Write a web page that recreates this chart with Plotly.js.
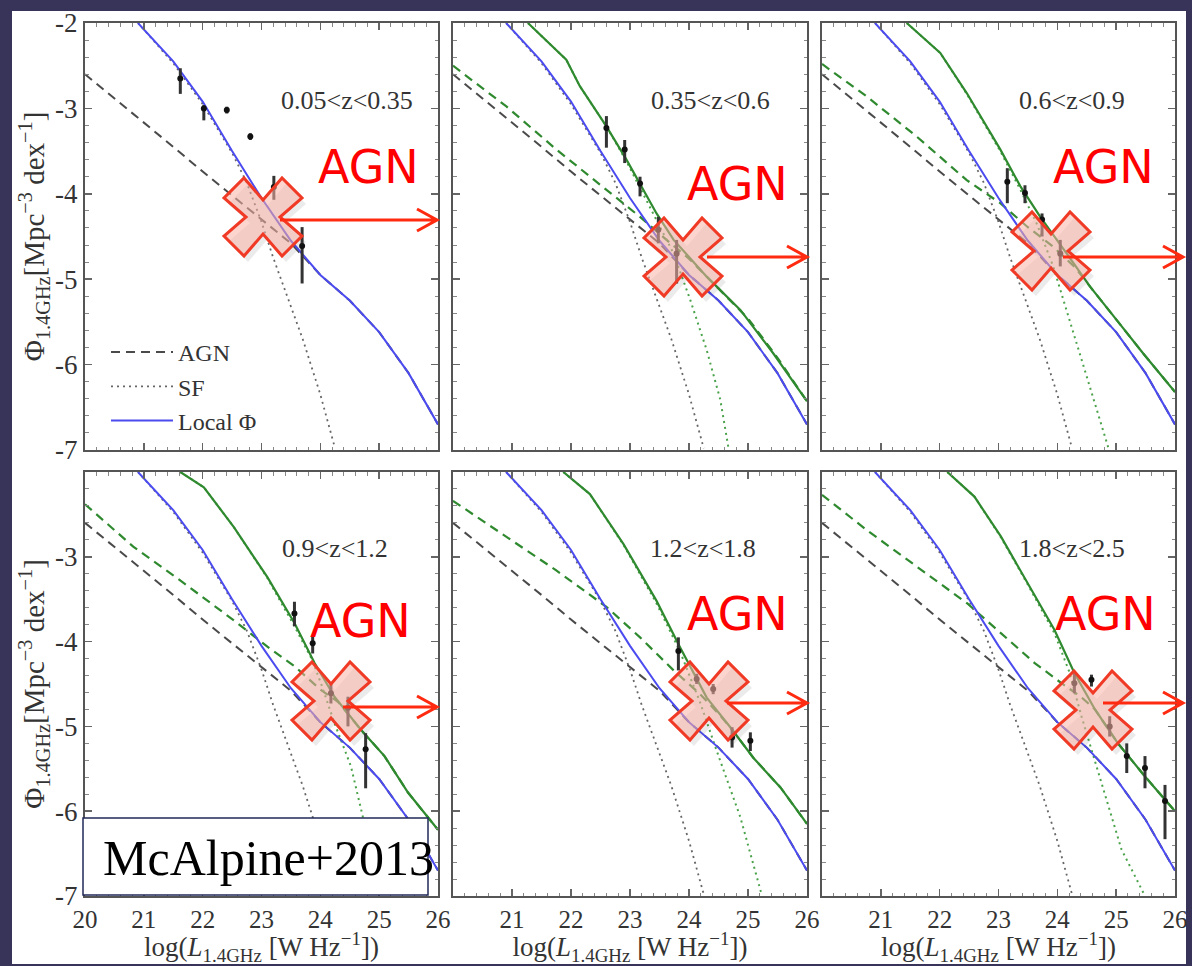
<!DOCTYPE html>
<html><head><meta charset="utf-8">
<script src="https://cdn.plot.ly/plotly-3.0.1.min.js"></script>
<style>html,body{margin:0;padding:0;background:#383459;} #chart{width:1192px;height:966px;}</style>
</head><body><div id="chart"></div><script>
// ---------- DATA ----------
const panelLabels = ['0.05&lt;z&lt;0.35', '0.35&lt;z&lt;0.6', '0.6&lt;z&lt;0.9', '0.9&lt;z&lt;1.2', '1.2&lt;z&lt;1.8', '1.8&lt;z&lt;2.5'];
const xTickVals = [20, 21, 22, 23, 24, 25, 26];
const xTickVals2 = [21, 22, 23, 24, 25, 26];
const yTickValsTop = [-7, -6, -5, -4, -3, -2];
const yTickValsBottom = [-7, -6, -5, -4, -3];

// Local luminosity function (same in every panel)
const localTotLum = [20.9, 21.5, 22.0, 22.5, 23.0, 23.5, 24.0, 24.5, 25.0, 25.5, 26.0];
const localTotPhi = [-2.0, -2.45, -2.92, -3.5, -4.05, -4.55, -4.95, -5.25, -5.62, -6.1, -6.7];
const localAgnLum = [20.0, 20.5, 21.0, 21.5, 22.0, 22.5, 23.0, 23.5, 24.0, 24.5, 25.0, 25.5, 26.0];
const localAgnPhi = [-2.6, -2.88, -3.16, -3.45, -3.74, -4.02, -4.3, -4.58, -4.95, -5.25, -5.62, -6.1, -6.7];
const localSfLum = [20.9, 21.5, 22.0, 22.5, 22.75, 23.0, 23.2, 23.45, 23.7, 24.0, 24.25];
const localSfPhi = [-2.0, -2.47, -2.95, -3.52, -3.87, -4.33, -4.75, -5.22, -5.7, -6.35, -6.98];

// Evolved fits (green) per redshift bin
const evoTotLum2 = [21.27, 21.92, 22.15, 22.6, 22.94, 23.45, 23.74, 24.3, 24.87, 25.43, 26.0];
const evoTotPhi2 = [-2.0, -2.43, -2.74, -3.21, -3.6, -4.23, -4.54, -4.97, -5.36, -5.87, -6.43];
const evoAgnLum2 = [20.0, 20.91, 21.75, 22.6, 23.17, 23.62, 24.0, 24.5, 25.0, 25.5, 26.0];
const evoAgnPhi2 = [-2.5, -2.98, -3.48, -3.95, -4.27, -4.54, -4.76, -5.11, -5.46, -5.92, -6.43];
const evoSfLum2 = [21.27, 21.92, 22.15, 22.6, 22.94, 23.45, 23.74, 24.02, 24.3, 24.53, 24.67];
const evoSfPhi2 = [-2.0, -2.43, -2.74, -3.21, -3.62, -4.3, -4.7, -5.24, -5.83, -6.41, -6.98];

const evoTotLum3 = [21.44, 22.01, 22.46, 23.03, 23.37, 23.71, 24.16, 24.56, 25.01, 25.46, 26.0];
const evoTotPhi3 = [-2.0, -2.35, -2.82, -3.48, -3.91, -4.27, -4.7, -5.09, -5.48, -5.87, -6.32];
const evoAgnLum3 = [20.0, 20.76, 21.61, 22.46, 23.03, 23.48, 23.93, 24.3, 24.56, 25.01, 25.46, 26.0];
const evoAgnPhi3 = [-2.48, -2.86, -3.33, -3.84, -4.11, -4.38, -4.62, -4.86, -5.09, -5.48, -5.87, -6.32];
const evoSfLum3 = [21.44, 22.01, 22.46, 23.03, 23.37, 23.65, 23.93, 24.27, 24.61, 24.87];
const evoSfPhi3 = [-2.0, -2.35, -2.83, -3.5, -3.95, -4.35, -4.85, -5.63, -6.41, -6.98];

const evoTotLum4 = [21.62, 22.02, 22.53, 23.1, 23.56, 23.9, 24.24, 24.69, 25.09, 25.49, 26.0];
const evoTotPhi4 = [-2.0, -2.18, -2.65, -3.24, -3.78, -4.25, -4.65, -5.04, -5.35, -5.78, -6.22];
const evoAgnLum4 = [20.0, 20.82, 21.68, 22.53, 23.1, 23.56, 24.01, 24.3, 24.69, 25.09, 25.49, 26.0];
const evoAgnPhi4 = [-2.38, -2.88, -3.31, -3.75, -4.06, -4.29, -4.57, -4.71, -5.04, -5.35, -5.78, -6.22];
const evoSfLum4 = [21.62, 22.02, 22.53, 23.1, 23.56, 23.85, 24.01, 24.24, 24.52, 24.72, 25.04];
const evoSfPhi4 = [-2.0, -2.18, -2.65, -3.25, -3.82, -4.2, -4.49, -4.96, -5.47, -6.06, -7.0];

const evoTotLum5 = [21.87, 22.32, 22.89, 23.45, 23.85, 24.3, 24.7, 25.09, 25.55, 26.0];
const evoTotPhi5 = [-2.0, -2.26, -2.85, -3.52, -4.07, -4.66, -5.01, -5.37, -5.72, -6.15];
const evoAgnLum5 = [20.0, 20.91, 21.75, 22.6, 23.17, 23.74, 24.19, 24.5, 24.7, 25.09, 25.55, 26.0];
const evoAgnPhi5 = [-2.34, -2.77, -3.16, -3.59, -3.95, -4.34, -4.62, -4.85, -5.01, -5.37, -5.72, -6.15];
const evoSfLum5 = [21.87, 22.32, 22.89, 23.45, 23.85, 24.19, 24.47, 24.87, 25.23];
const evoSfPhi5 = [-2.0, -2.26, -2.86, -3.55, -4.12, -4.72, -5.29, -6.07, -6.98];

const evoTotLum6 = [22.13, 22.59, 23.04, 23.5, 23.95, 24.29, 24.64, 25.03, 25.49, 26.0];
const evoTotPhi6 = [-2.0, -2.29, -2.76, -3.31, -3.86, -4.37, -4.8, -5.2, -5.59, -6.0];
const evoAgnLum6 = [20.0, 20.77, 21.62, 22.47, 23.04, 23.61, 24.07, 24.4, 24.64, 25.03, 25.49, 26.0];
const evoAgnPhi6 = [-2.27, -2.69, -3.12, -3.55, -3.9, -4.25, -4.49, -4.65, -4.8, -5.2, -5.59, -6.0];
const evoSfLum6 = [22.13, 22.59, 23.04, 23.5, 23.95, 24.2, 24.41, 24.75, 25.09, 25.49];
const evoSfPhi6 = [-2.0, -2.29, -2.77, -3.33, -3.9, -4.35, -4.88, -5.67, -6.45, -7.0];

// Measured luminosity function points
const obsLum1 = [21.62, 22.02, 22.41, 22.81, 23.21, 23.69];
const obsPhi1 = [-2.65, -3.0, -3.02, -3.33, -3.92, -4.61];
const obsUp1 = [0.12, 0.04, 0.04, 0.04, 0.13, 0.22];
const obsDn1 = [0.18, 0.14, 0.04, 0.04, 0.15, 0.44];
const obsLum2 = [22.6, 22.91, 23.17, 23.48, 23.79];
const obsPhi2 = [-3.23, -3.48, -3.88, -4.42, -4.7];
const obsUp2 = [0.14, 0.11, 0.08, 0.15, 0.16];
const obsDn2 = [0.23, 0.16, 0.15, 0.16, 0.35];
const obsLum3 = [23.15, 23.45, 23.74, 24.05];
const obsPhi3 = [-3.86, -3.99, -4.3, -4.7];
const obsUp3 = [0.16, 0.09, 0.07, 0.16];
const obsDn3 = [0.25, 0.12, 0.2, 0.15];
const obsLum4 = [23.56, 23.87, 24.18, 24.47, 24.77];
const obsPhi4 = [-3.67, -4.02, -4.61, -4.78, -5.27];
const obsUp4 = [0.14, 0.08, 0.12, 0.13, 0.19];
const obsDn4 = [0.15, 0.12, 0.12, 0.22, 0.46];
const obsLum5 = [23.82, 24.13, 24.41, 24.73, 25.04];
const obsPhi5 = [-4.11, -4.44, -4.56, -5.13, -5.17];
const obsUp5 = [0.16, 0.06, 0.06, 0.12, 0.1];
const obsDn5 = [0.23, 0.06, 0.06, 0.12, 0.12];
const obsLum6 = [24.29, 24.58, 24.89, 25.18, 25.49, 25.83];
const obsPhi6 = [-4.49, -4.45, -5.0, -5.35, -5.49, -5.88];
const obsUp6 = [0.12, 0.06, 0.12, 0.15, 0.14, 0.19];
const obsDn6 = [0.12, 0.08, 0.12, 0.2, 0.24, 0.45];

const legendNames = ['AGN', 'SF', 'Local Φ'];
const annotationWord = 'AGN';
const creditText = 'McAlpine+2013';

// ---------- LAYOUT GEOMETRY ----------
const W = 1192, H = 966;
const colL = [85, 453, 822], colR = [438, 807, 1175];
const rowT = [23, 472], rowB = [450, 896];
const SERIF = '"Liberation Serif", "Times New Roman", "DejaVu Serif", serif';
const BLUE = '#4b4bf0', GREEN = '#2f8a2f', DASHGREY = '#4a4a4a', DOTGREY = '#666666';
const fx = x => x / W, fy = y => 1 - y / H;

const evo = {
  2: [evoTotLum2, evoTotPhi2, evoAgnLum2, evoAgnPhi2, evoSfLum2, evoSfPhi2],
  3: [evoTotLum3, evoTotPhi3, evoAgnLum3, evoAgnPhi3, evoSfLum3, evoSfPhi3],
  4: [evoTotLum4, evoTotPhi4, evoAgnLum4, evoAgnPhi4, evoSfLum4, evoSfPhi4],
  5: [evoTotLum5, evoTotPhi5, evoAgnLum5, evoAgnPhi5, evoSfLum5, evoSfPhi5],
  6: [evoTotLum6, evoTotPhi6, evoAgnLum6, evoAgnPhi6, evoSfLum6, evoSfPhi6]
};
const obs = {
  1: [obsLum1, obsPhi1, obsUp1, obsDn1], 2: [obsLum2, obsPhi2, obsUp2, obsDn2],
  3: [obsLum3, obsPhi3, obsUp3, obsDn3], 4: [obsLum4, obsPhi4, obsUp4, obsDn4],
  5: [obsLum5, obsPhi5, obsUp5, obsDn5], 6: [obsLum6, obsPhi6, obsUp6, obsDn6]
};

const traces = [];
const layout = {
  width: W, height: H,
  margin: {l: 0, r: 0, t: 0, b: 0},
  paper_bgcolor: '#383459', plot_bgcolor: 'white',
  showlegend: true,
  legend: {x: fx(106), y: fy(330), xanchor: 'left', yanchor: 'top', bgcolor: 'rgba(0,0,0,0)',
           font: {family: SERIF, size: 24, color: '#333'}, itemwidth: 62, tracegroupgap: 0},
  shapes: [], annotations: []
};

for (let i = 1; i <= 6; i++) {
  const row = i <= 3 ? 0 : 1, col = (i - 1) % 3;
  const xr = i === 1 ? 'x' : 'x' + i, yr = i === 1 ? 'y' : 'y' + i;
  const xa = {
    domain: [fx(colL[col]), fx(colR[col])], range: [20, 26], anchor: yr,
    showline: true, mirror: 'allticks', linecolor: '#555', linewidth: 2,
    ticks: 'inside', ticklen: 7, tickwidth: 1.5, tickcolor: '#666',
    minor: {ticks: 'inside', ticklen: 3.5, dtick: 0.2, tickcolor: '#888', tickwidth: 1},
    showgrid: false, zeroline: false, fixedrange: true,
    tickmode: 'array', tickvals: col === 0 ? xTickVals : xTickVals2,
    ticktext: (col === 0 ? xTickVals : xTickVals2).map(String),
    showticklabels: row === 1, tickfont: {family: SERIF, size: 25, color: '#333'}
  };
  if (row === 1) xa.title = {text: 'log(<i>L</i><sub>1.4GHz</sub> [W Hz<sup>−1</sup>])',
                             font: {family: SERIF, size: 27, color: '#333'}, standoff: 6};
  const yvals = row === 0 ? yTickValsTop : yTickValsBottom;
  const ya = {
    domain: [fy(rowB[row]), fy(rowT[row])], range: [-7, -2], anchor: xr,
    showline: true, mirror: 'allticks', linecolor: '#555', linewidth: 2,
    ticks: 'inside', ticklen: 7, tickwidth: 1.5, tickcolor: '#666',
    minor: {ticks: 'inside', ticklen: 3.5, dtick: 0.2, tickcolor: '#888', tickwidth: 1},
    showgrid: false, zeroline: false, fixedrange: true,
    tickmode: 'array', tickvals: yvals, ticktext: yvals.map(v => '-' + Math.abs(v)),
    showticklabels: col === 0, tickfont: {family: SERIF, size: 27, color: '#333'}
  };
  if (col === 0) ya.title = {text: 'Φ<sub>1.4GHz</sub>[Mpc<sup>−3</sup> dex<sup>−1</sup>]',
                             font: {family: SERIF, size: 29, color: '#333'}, standoff: 2};
  layout[i === 1 ? 'xaxis' : 'xaxis' + i] = xa;
  layout[i === 1 ? 'yaxis' : 'yaxis' + i] = ya;

  const lg = i === 1;
  traces.push({x: localAgnLum, y: localAgnPhi, xaxis: xr, yaxis: yr, mode: 'lines', name: legendNames[0],
               showlegend: lg, line: {color: DASHGREY, width: 2, dash: '9px,6px'}, hoverinfo: 'skip'});
  traces.push({x: localSfLum, y: localSfPhi, xaxis: xr, yaxis: yr, mode: 'lines', name: legendNames[1],
               showlegend: lg, line: {color: DOTGREY, width: 1.8, dash: '2px,4px'}, hoverinfo: 'skip'});
  if (evo[i]) {
    const e = evo[i];
    traces.push({x: e[2], y: e[3], xaxis: xr, yaxis: yr, mode: 'lines', showlegend: false,
                 line: {color: GREEN, width: 2.2, dash: '9px,6px'}, hoverinfo: 'skip'});
    traces.push({x: e[4], y: e[5], xaxis: xr, yaxis: yr, mode: 'lines', showlegend: false,
                 line: {color: '#4aa24a', width: 2, dash: '2px,4px'}, hoverinfo: 'skip'});
  }
  traces.push({x: localTotLum, y: localTotPhi, xaxis: xr, yaxis: yr, mode: 'lines', name: legendNames[2],
               showlegend: lg, line: {color: BLUE, width: 2}, hoverinfo: 'skip'});
  if (evo[i]) {
    const e = evo[i];
    traces.push({x: e[0], y: e[1], xaxis: xr, yaxis: yr, mode: 'lines', showlegend: false,
                 line: {color: GREEN, width: 2.2}, hoverinfo: 'skip'});
  }
  const o = obs[i];
  traces.push({x: o[0], y: o[1], xaxis: xr, yaxis: yr, mode: 'markers', showlegend: false,
               marker: {color: '#111', size: 6},
               error_y: {type: 'data', symmetric: false, array: o[2], arrayminus: o[3],
                         color: '#333', thickness: 3, width: 0}});
}

// White slide card
layout.shapes.push({type: 'rect', xref: 'paper', yref: 'paper', x0: fx(12), x1: fx(1186),
                    y0: fy(964), y1: fy(11), fillcolor: 'white', line: {width: 0}, layer: 'below'});

// Panel redshift labels
const labelPos = [[347, 100], [710, 100], [1072, 100], [335, 548], [703, 548], [1072, 548]];
labelPos.forEach((p, k) => layout.annotations.push({
  xref: 'paper', yref: 'paper', x: fx(p[0]), y: fy(p[1]), xanchor: 'center', yanchor: 'middle',
  text: panelLabels[k], showarrow: false, font: {family: SERIF, size: 26, color: '#333'}}));

// Overlay: crosses, arrows, "AGN" words
const crossCentres = [[263, 217], [683, 257], [1051, 251], [331, 701], [709, 701], [1093, 710]];
const arrowLines = [[280, 437, 220], [707, 807, 257], [1063, 1183, 257], [343, 437, 707], [727, 807, 703], [1103, 1183, 703]];
const agnPos = [[368, 167], [737, 184], [1103, 167], [360, 621], [737, 614], [1105, 614]];
const h = 39, d = 20, n = 17;
const crossPts = [[0, -n], [h - d, -h], [h, -h + d], [n, 0], [h, h - d], [h - d, h], [0, n], [-h + d, h], [-h, h - d], [-n, 0], [-h, -h + d], [-h + d, -h]];
function polyPath(cx, cy) {
  return 'M ' + crossPts.map(p => fx(cx + p[0]).toFixed(5) + ' ' + fy(cy + p[1]).toFixed(5)).join(' L ') + ' Z';
}
crossCentres.forEach(c => {
  layout.shapes.push({type: 'path', xref: 'paper', yref: 'paper', path: polyPath(c[0] + 4, c[1] + 6),
                      fillcolor: 'rgba(60,60,60,0.10)', line: {width: 0}, layer: 'above'});
  layout.shapes.push({type: 'path', xref: 'paper', yref: 'paper', path: polyPath(c[0], c[1]),
                      fillcolor: 'rgba(250,178,168,0.55)', line: {color: '#f03a25', width: 3}, layer: 'above'});
});
arrowLines.forEach(a => {
  const [x1, x2, y] = a;
  const P = (x, yy) => fx(x).toFixed(5) + ' ' + fy(yy).toFixed(5);
  layout.shapes.push({type: 'path', xref: 'paper', yref: 'paper',
    path: 'M ' + P(x1, y) + ' L ' + P(x2, y) + ' M ' + P(x2 - 20, y - 11) + ' L ' + P(x2, y) + ' L ' + P(x2 - 20, y + 11),
    line: {color: '#ff2a10', width: 3}, layer: 'above'});
});
agnPos.forEach(p => layout.annotations.push({
  xref: 'paper', yref: 'paper', x: fx(p[0]), y: fy(p[1]), xanchor: 'center', yanchor: 'middle',
  text: annotationWord, showarrow: false,
  font: {family: '"Comic Sans MS", "DejaVu Sans", sans-serif', size: 46, color: '#ff0000'}}));

// Credit box
layout.shapes.push({type: 'rect', xref: 'paper', yref: 'paper', x0: fx(83), x1: fx(428), y0: fy(895), y1: fy(818),
                    fillcolor: 'white', line: {color: '#22285a', width: 1.5}, layer: 'above'});
layout.annotations.push({xref: 'paper', yref: 'paper', x: fx(101), y: fy(858), xanchor: 'left', yanchor: 'middle',
  text: creditText, showarrow: false, font: {family: SERIF, size: 50, color: '#000'}});

Plotly.newPlot('chart', traces, layout, {staticPlot: true, displayModeBar: false});
</script></body></html>
